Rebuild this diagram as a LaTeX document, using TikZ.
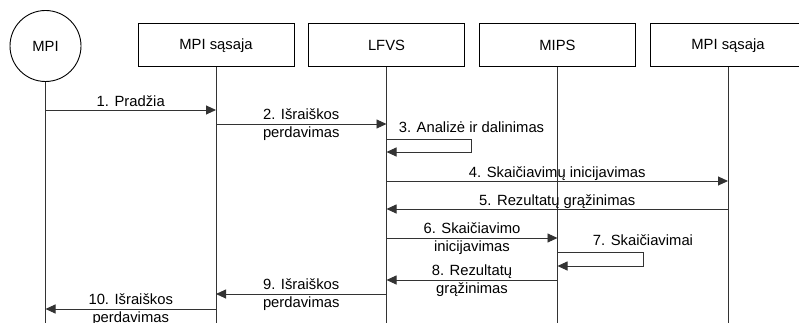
\documentclass[tikz,border=0pt]{standalone}
\usepackage{fontspec}
\setmainfont{Liberation Sans}
\usetikzlibrary{arrows.meta, positioning}

\begin{document}
\begin{tikzpicture}[x=1pt, y=-1pt, >={Triangle[length=10pt, width=9pt]},
  every node/.style={font=\fontsize{14.8}{18}\selectfont},
  actor/.style={draw, circle, line width=0.9pt, minimum size=71pt, inner sep=0pt},
  part/.style={draw, rectangle, line width=1pt, minimum width=156pt,
    minimum height=43pt, inner sep=0pt},
  life/.style={line width=0.9pt, black!80},
  msg/.style={->, line width=0.9pt, black!80},
  lbl/.style={above, inner sep=0.5pt, text depth=3pt, black},
  lbltwo/.style={midway, align=center, inner sep=0pt, black}]
  % Frame
  \useasboundingbox (0,0) rectangle (799,323);
  \clip (0,0) rectangle (799,323);

  % Participants
  \node[actor] (mpi) at (45.5,46) {MPI};
  \node[part] (ifa) at (216,45.5) {MPI sąsaja};
  \node[part] (lfvs) at (386.5,45.5) {LFVS};
  \node[part] (mips) at (557.5,45.5) {MIPS};
  \node[part] (ifb) at (728,45.5) {MPI sąsaja};

  % Lifelines
  \coordinate (bot) at (0,330);
  \foreach \p in {mpi, ifa, lfvs, mips, ifb}
    \draw[life] (\p.south) -- (\p |- bot);

  % Message levels
  \coordinate (m1) at (0,110);
  \coordinate (m2) at (0,124);
  \coordinate (m3) at (0,139);
  \coordinate (m3b) at (0,152);
  \coordinate (m4) at (0,181);
  \coordinate (m5) at (0,209);
  \coordinate (m6) at (0,238);
  \coordinate (m7) at (0,252);
  \coordinate (m7b) at (0,266);
  \coordinate (m8) at (0,280);
  \coordinate (m9) at (0,294);
  \coordinate (m10) at (0,309);

  % Messages
  \draw[msg] (mpi |- m1) -- (ifa |- m1) node[midway, lbl] {1. Pradžia};
  \draw[msg] (ifa |- m2) -- (lfvs |- m2)
    node[lbltwo, yshift=-1pt] {2. Išraiškos\\perdavimas};
  \draw[msg] (lfvs |- m3) -- ++(85,0)
    node[lbl, yshift=3pt] {3. Analizė ir dalinimas} |- (lfvs |- m3b);
  \draw[msg] (lfvs |- m4) -- (ifb |- m4)
    node[midway, lbl] {4. Skaičiavimų inicijavimas};
  \draw[msg] (ifb |- m5) -- (lfvs |- m5)
    node[midway, lbl] {5. Rezultatų grąžinimas};
  \draw[msg] (lfvs |- m6) -- (mips |- m6)
    node[lbltwo, yshift=-1pt] {6. Skaičiavimo\\inicijavimas};
  \draw[msg] (mips |- m7) -- ++(85.5,0)
    node[lbl, yshift=3pt] {7. Skaičiavimai} |- (mips |- m7b);
  \draw[msg] (mips |- m8) -- (lfvs |- m8)
    node[lbltwo, yshift=-1pt] {8. Rezultatų\\grąžinimas};
  \draw[msg] (lfvs |- m9) -- (ifa |- m9)
    node[lbltwo, yshift=-1pt] {9. Išraiškos\\perdavimas};
  \draw[msg] (ifa |- m10) -- (mpi |- m10)
    node[lbltwo, yshift=-1pt] {10. Išraiškos\\perdavimas};
\end{tikzpicture}
\end{document}
